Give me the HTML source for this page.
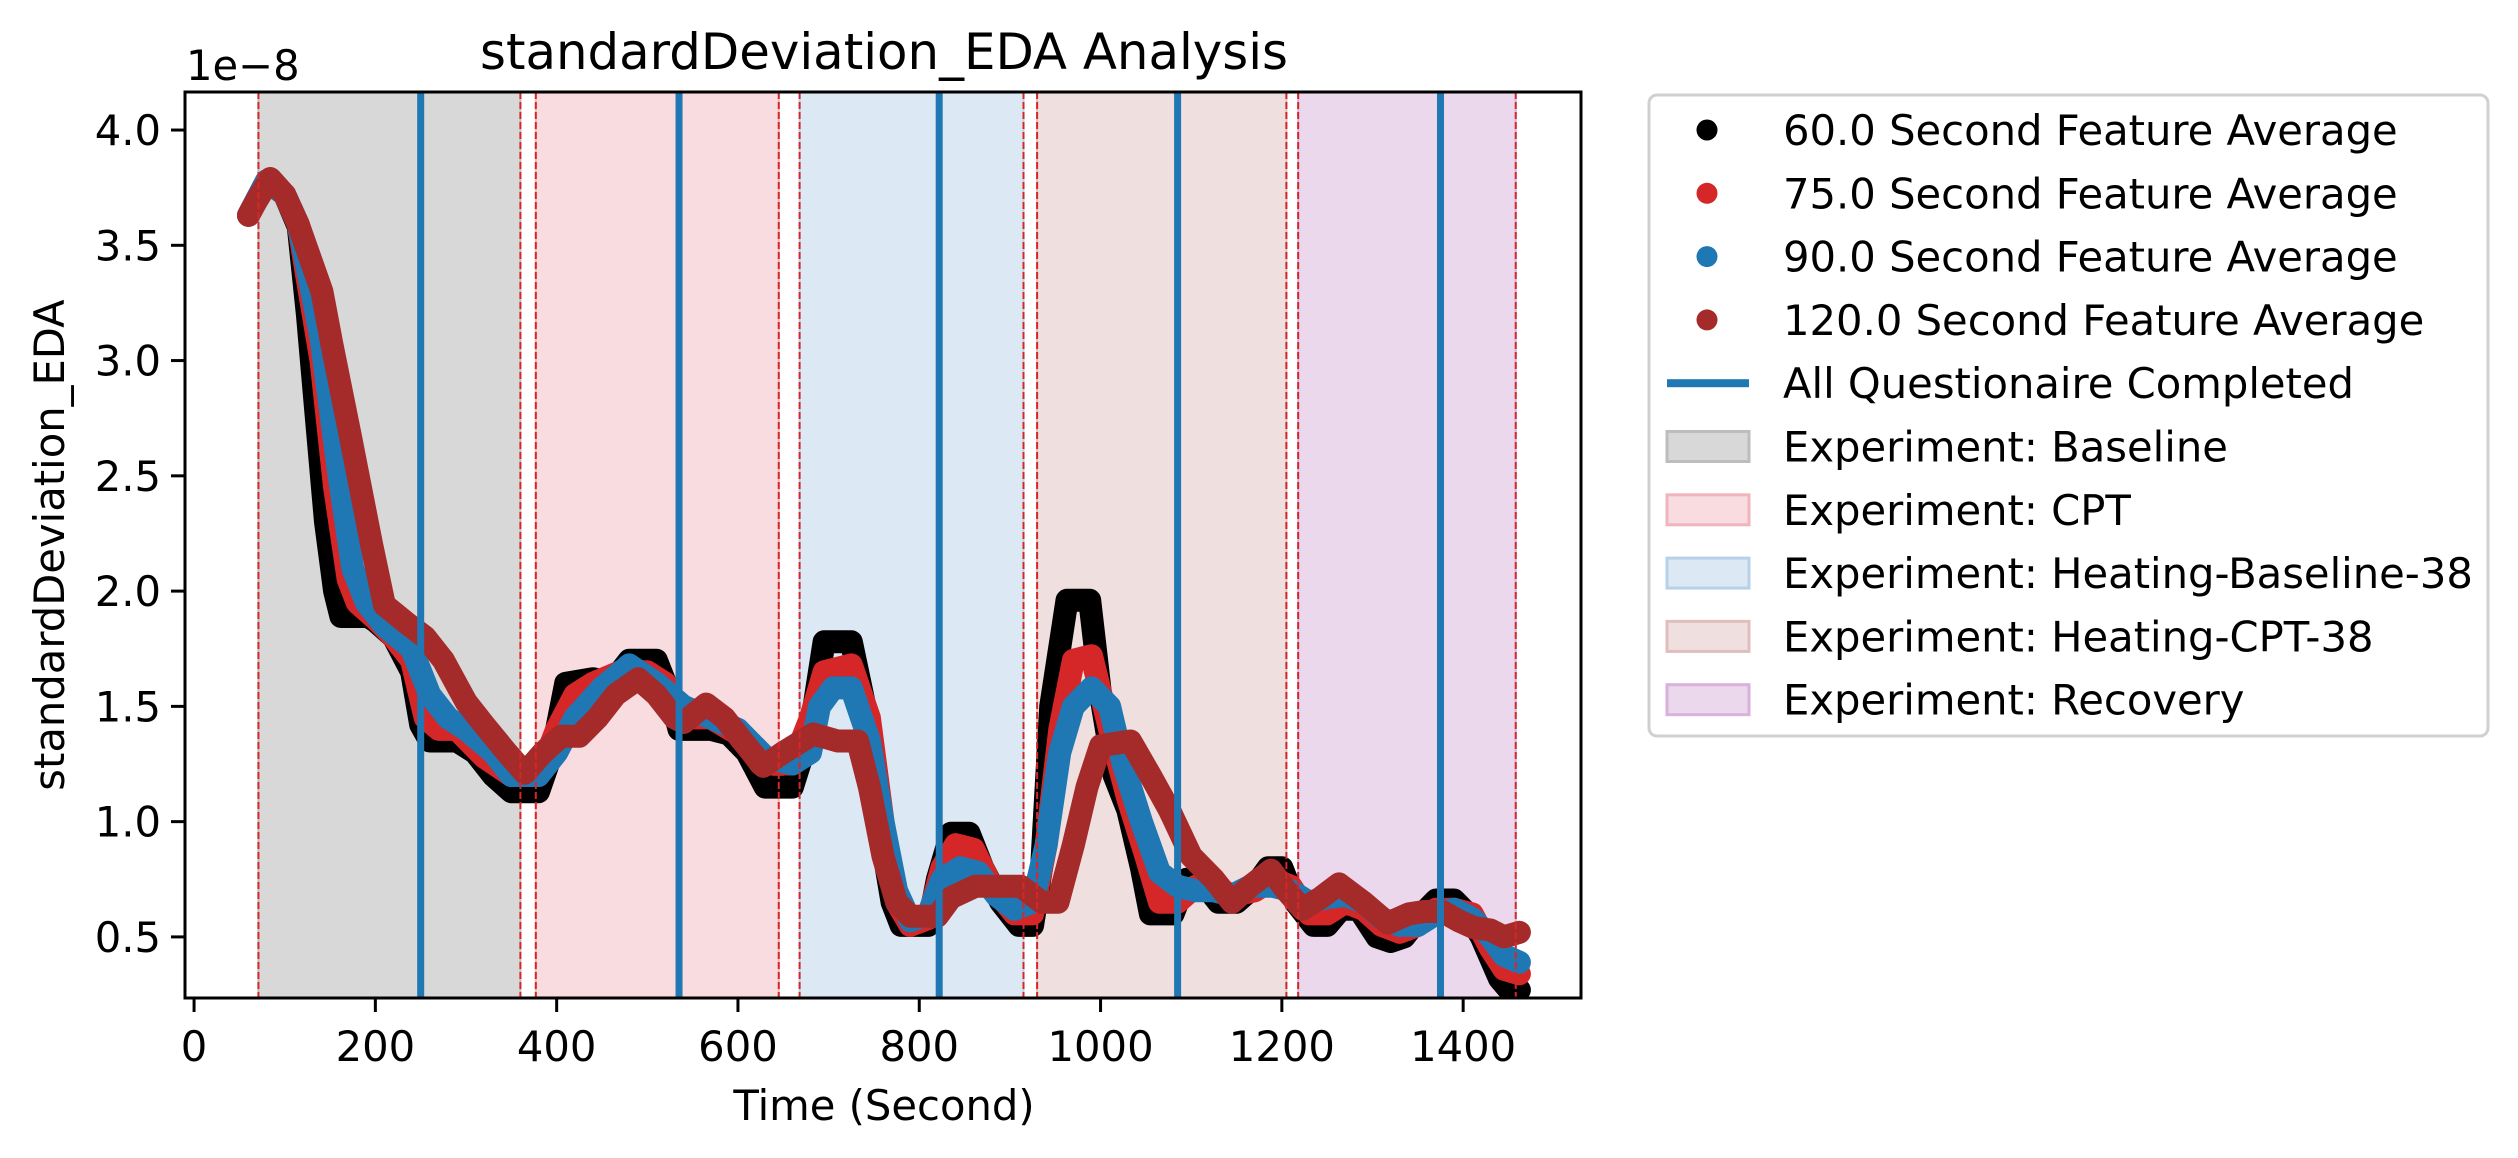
<!DOCTYPE html>
<html><head><meta charset="utf-8"><style>
html,body{margin:0;padding:0;background:#fff;}
svg{display:block;font-family:"DejaVu Sans","Liberation Sans",sans-serif;}
</style></head><body>
<svg id="chart" width="2518" height="1158" viewBox="0 0 2518 1158" xmlns="http://www.w3.org/2000/svg">
<defs><clipPath id="axclip"><rect x="185" y="92" width="1396" height="906"/></clipPath></defs>
<rect width="2518" height="1158" fill="#fff"/>
<g id="spans" clip-path="url(#axclip)"></g>
<g id="series" clip-path="url(#axclip)"></g>
<g id="vlines" clip-path="url(#axclip)"></g>
<rect x="185" y="92" width="1396" height="906" fill="none" stroke="#000" stroke-width="3"/>
<g id="xticks"></g><g id="yticks"></g>
<text x="884" y="69" font-size="50" text-anchor="middle" textLength="808" lengthAdjust="spacingAndGlyphs">standardDeviation_EDA Analysis</text>
<text x="186" y="80" font-size="41.7">1e−8</text>
<text x="884" y="1120" font-size="41.7" text-anchor="middle">Time (Second)</text>
<text transform="translate(64,545) rotate(-90)" font-size="41.7" text-anchor="middle">standardDeviation_EDA</text>
<g id="legend">
<rect x="1649" y="95" width="839" height="641" rx="8" fill="#fff" stroke="#d0d0d0" stroke-width="3"/>
</g>
</svg>
<script>
const xTicks=[0,200,400,600,800,1000,1200,1400];
const yTicks=[0.5,1.0,1.5,2.0,2.5,3.0,3.5,4.0];
const spanNames=["Baseline","CPT","Heating-Baseline-38","Heating-CPT-38","Recovery"];
const spanStart=[71,377,668,930,1218];
const spanEnd=[360,645,915,1205,1458];
const spanFill=["#d8d8d8","#f8dcdf","#dce8f3","#f0dfdf","#ebd8ec"];
const spanEdge=["#bdbdbd","#f0b5ba","#b7d1e9","#e0bebe","#d9b2dc"];
const questionnaireTimes=[250,535,822,1085,1375];
const t60=[60,80,100,115,125,135,145,155,162,192,200,220,240,250,260,290,310,330,350,380,395,410,440,460,480,510,525,535,570,590,610,630,660,680,695,725,740,755,770,780,810,820,835,855,870,890,910,925,935,945,963,988,1000,1015,1030,1045,1055,1080,1095,1110,1130,1150,1170,1185,1200,1215,1235,1250,1265,1285,1305,1320,1335,1355,1370,1390,1405,1420,1440,1455,1462];
const v60=[3.63,3.78,3.72,3.58,3.2,2.75,2.3,2.0,1.89,1.89,1.87,1.8,1.65,1.42,1.35,1.35,1.3,1.2,1.13,1.13,1.3,1.6,1.62,1.6,1.7,1.7,1.55,1.4,1.4,1.38,1.3,1.15,1.15,1.4,1.78,1.78,1.5,1.0,0.65,0.55,0.55,0.75,0.95,0.95,0.8,0.65,0.55,0.55,0.8,1.5,1.96,1.96,1.55,1.2,1.05,0.8,0.6,0.6,0.75,0.75,0.65,0.65,0.72,0.8,0.8,0.65,0.55,0.55,0.62,0.62,0.5,0.48,0.5,0.6,0.66,0.66,0.6,0.5,0.32,0.25,0.27];
const t75=[60,80,100,115,125,140,155,170,180,200,220,240,255,270,290,320,350,380,400,420,440,470,500,520,535,570,600,625,660,680,695,725,745,760,775,790,810,825,840,860,880,905,925,940,955,970,990,1010,1030,1050,1065,1085,1105,1125,1145,1170,1190,1210,1230,1250,1270,1290,1310,1330,1350,1370,1390,1410,1430,1445,1462];
const v75=[3.63,3.78,3.72,3.59,3.35,3.0,2.45,2.05,1.95,1.88,1.8,1.7,1.45,1.4,1.4,1.28,1.2,1.2,1.4,1.55,1.6,1.65,1.65,1.6,1.45,1.45,1.38,1.25,1.25,1.45,1.65,1.68,1.45,1.0,0.65,0.55,0.58,0.8,0.9,0.88,0.72,0.6,0.6,0.9,1.4,1.7,1.72,1.4,1.1,0.85,0.65,0.65,0.72,0.72,0.68,0.7,0.75,0.72,0.6,0.6,0.65,0.62,0.55,0.52,0.55,0.62,0.62,0.6,0.45,0.36,0.34];
const t90=[60,80,100,115,125,140,160,175,190,210,240,260,280,300,330,350,380,400,420,450,480,510,540,570,600,630,660,680,690,705,725,745,760,775,790,810,825,845,865,885,905,925,940,955,970,990,1010,1025,1045,1065,1085,1105,1125,1145,1165,1190,1210,1230,1250,1270,1290,1310,1330,1350,1370,1390,1410,1430,1445,1462];
const v90=[3.63,3.78,3.72,3.59,3.4,3.1,2.5,2.1,1.95,1.85,1.75,1.55,1.45,1.4,1.3,1.2,1.2,1.3,1.45,1.58,1.68,1.6,1.5,1.45,1.4,1.28,1.25,1.3,1.5,1.58,1.58,1.35,1.0,0.7,0.57,0.6,0.75,0.8,0.78,0.68,0.62,0.65,0.9,1.3,1.5,1.58,1.5,1.25,1.0,0.78,0.72,0.7,0.7,0.68,0.72,0.72,0.7,0.65,0.67,0.68,0.65,0.58,0.55,0.55,0.6,0.62,0.58,0.5,0.42,0.39];
const t120=[60,70,84,100,115,141,152,172,196,210,235,255,275,300,320,345,365,385,405,425,445,465,490,510,530,540,565,585,605,628,650,683,710,732,745,760,775,790,820,835,862,912,935,953,970,985,1000,1033,1055,1076,1100,1125,1145,1165,1188,1205,1223,1243,1263,1290,1317,1340,1357,1377,1395,1412,1430,1445,1462];
const v120=[3.63,3.7,3.79,3.72,3.59,3.3,3.07,2.68,2.2,1.94,1.86,1.8,1.7,1.52,1.42,1.3,1.21,1.3,1.37,1.37,1.45,1.55,1.62,1.55,1.45,1.43,1.51,1.45,1.35,1.24,1.3,1.38,1.35,1.35,1.15,0.85,0.65,0.59,0.59,0.67,0.72,0.72,0.65,0.65,0.9,1.15,1.33,1.35,1.2,1.05,0.85,0.75,0.65,0.72,0.79,0.7,0.62,0.67,0.73,0.65,0.56,0.6,0.61,0.61,0.57,0.54,0.53,0.5,0.52];

const NS="http://www.w3.org/2000/svg";
const X0=185,X1=1581,Y0=92,Y1=998;
const xMin=-10,xMax=1530,yMin=0.235,yMax=4.165;
function sx(t){return X0+(t-xMin)/(xMax-xMin)*(X1-X0);}
function sy(v){return Y1-(v-yMin)/(yMax-yMin)*(Y1-Y0);}
function mk(tag,attrs,parent){const e=document.createElementNS(NS,tag);for(const k in attrs)e.setAttribute(k,attrs[k]);parent.appendChild(e);return e;}
const gSpans=document.getElementById('spans');
for(let i=0;i<spanNames.length;i++){
  const r=mk('rect',{x:sx(spanStart[i]),y:Y0,width:sx(spanEnd[i])-sx(spanStart[i]),height:Y1-Y0,fill:spanFill[i],stroke:spanEdge[i],'stroke-width':2},gSpans);
  
  
}
const gS=document.getElementById('series');
const seriesT=[t60,t75,t90,t120],seriesV=[v60,v75,v90,v120];
const seriesC=["#000000","#d62728","#1f77b4","#a52a2a"],seriesN=["series-60s","series-75s","series-90s","series-120s"];
for(let s=0;s<4;s++){
  const pts=seriesT[s].map((t,i)=>sx(t).toFixed(1)+','+sy(seriesV[s][i]).toFixed(1)).join(' ');
  const p=mk('polyline',{points:pts,fill:'none',stroke:seriesC[s],'stroke-width':23,'stroke-linejoin':'round','stroke-linecap':'round'},gS);
  
  
}
const gV=document.getElementById('vlines');
for(let i=0;i<spanNames.length;i++){
  for(const t of [spanStart[i],spanEnd[i]]){
    const l=mk('line',{x1:sx(t),x2:sx(t),y1:Y0,y2:Y1,stroke:'#d62728','stroke-width':2,'stroke-dasharray':'7,3'},gV);
    
    
  }
}
for(const t of questionnaireTimes){
  const l=mk('line',{x1:sx(t),x2:sx(t),y1:Y0,y2:Y1,stroke:'#1f77b4','stroke-width':7},gV);
  
  
}
const gx=document.getElementById('xticks');
for(const t of xTicks){
  mk('line',{x1:sx(t),x2:sx(t),y1:Y1,y2:Y1+14,stroke:'#000','stroke-width':3},gx);
  const tx=mk('text',{x:sx(t),y:1061,'font-size':41.7,'text-anchor':'middle'},gx);
  tx.textContent=String(t);
  
  
}
const gy=document.getElementById('yticks');
for(const v of yTicks){
  mk('line',{x1:X0-14,x2:X0,y1:sy(v),y2:sy(v),stroke:'#000','stroke-width':3},gy);
  const tx=mk('text',{x:X0-24,y:sy(v)+15,'font-size':41.7,'text-anchor':'end'},gy);
  tx.textContent=v.toFixed(1);
  
  
}
const gL=document.getElementById('legend');
const legendLabels=["60.0 Second Feature Average","75.0 Second Feature Average","90.0 Second Feature Average","120.0 Second Feature Average","All Questionaire Completed"].concat(spanNames.map(n=>"Experiment: "+n));
for(let i=0;i<legendLabels.length;i++){
  const cy=130+i*63.3;
  if(i<4){mk('circle',{cx:1707,cy:cy,r:10.5,fill:seriesC[i]},gL);}
  else if(i===4){mk('rect',{x:1667,y:cy-4,width:82,height:8,fill:'#1f77b4'},gL);}
  else{const k=i-5;mk('rect',{x:1667,y:cy-15,width:82,height:30,fill:spanFill[k],stroke:spanEdge[k],'stroke-width':3},gL);}
  const tx=mk('text',{x:1783,y:cy+15,'font-size':41.7},gL);
  tx.textContent=legendLabels[i];
  
  
}
</script>
</body></html>
